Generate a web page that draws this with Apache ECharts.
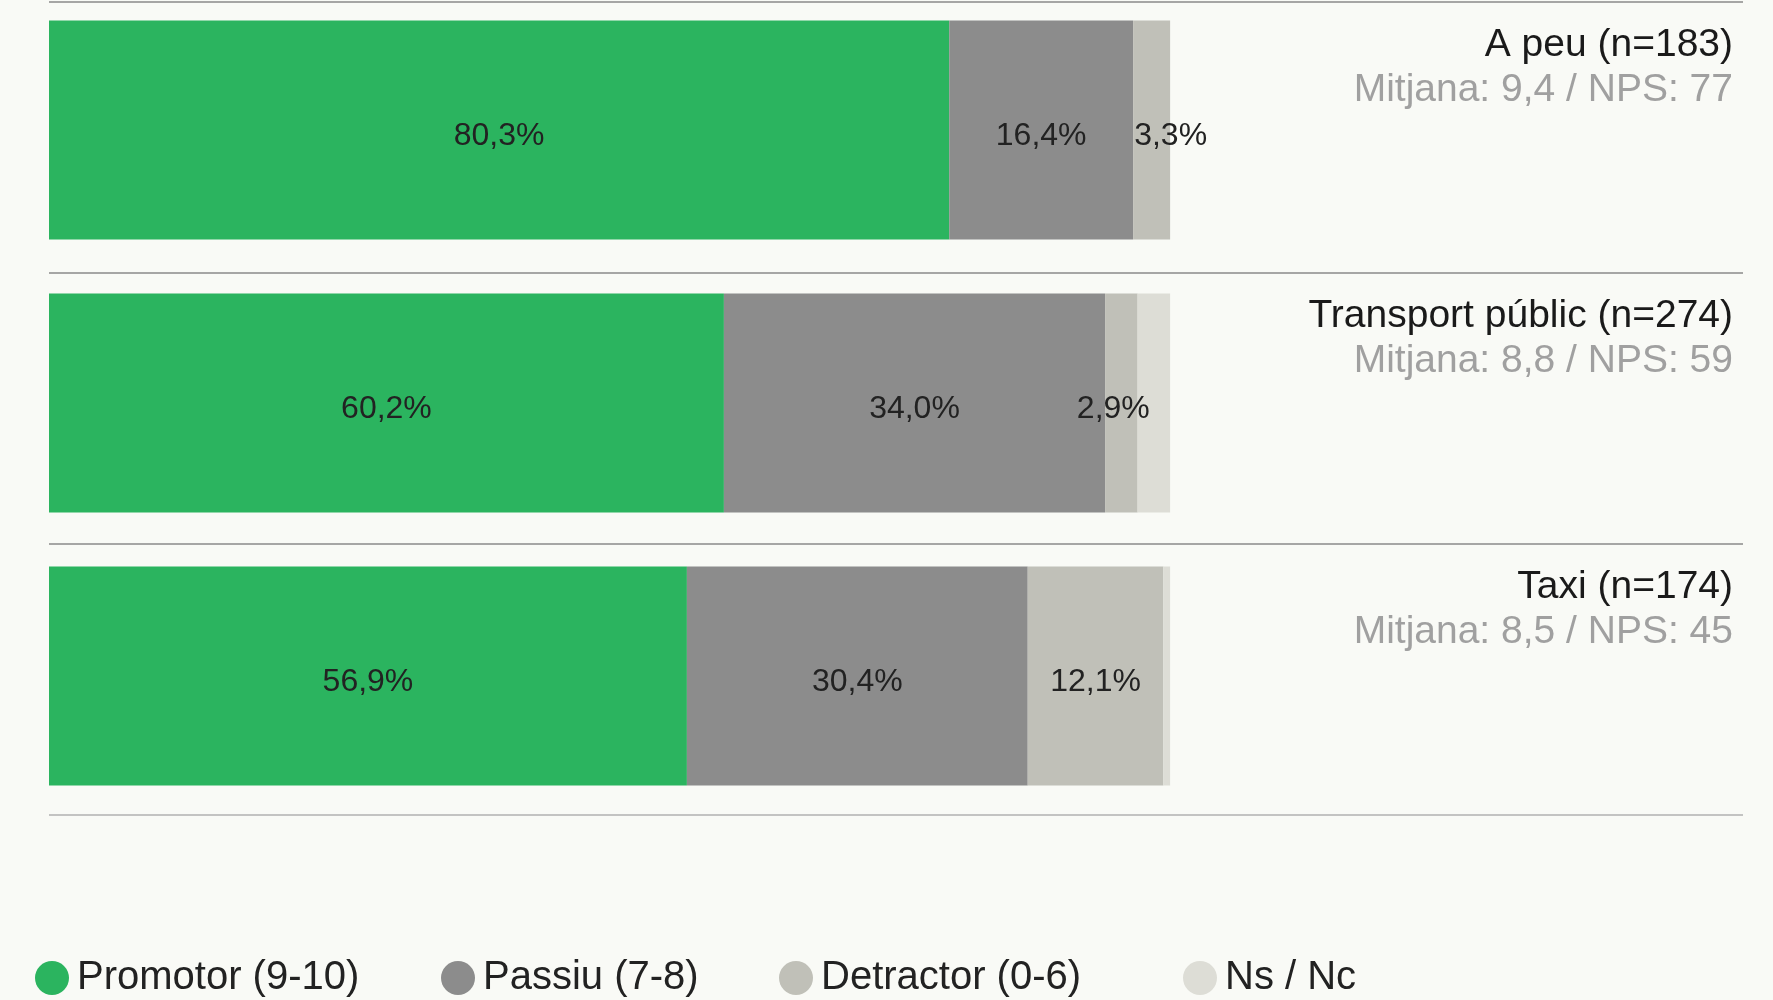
<!DOCTYPE html>
<html>
<head>
<meta charset="utf-8">
<script src="https://cdn.jsdelivr.net/npm/echarts@6/dist/echarts.min.js"></script>
<style>
  html, body { margin: 0; padding: 0; background: #f9faf6; }
  #chart { width: 1773px; height: 1000px; }
</style>
</head>
<body>
<div id="chart"></div>
<script>
// dades
const categories = ['A peu (n=183)', 'Transport públic (n=274)', 'Taxi (n=174)'];
const subtitles = ['Mitjana: 9,4 / NPS: 77', 'Mitjana: 8,8 / NPS: 59', 'Mitjana: 8,5 / NPS: 45'];
const seriesNames = ['Promotor (9-10)', 'Passiu (7-8)', 'Detractor (0-6)', 'Ns / Nc'];
const promotor = [80.3, 60.2, 56.9];
const passiu = [16.4, 34.0, 30.4];
const detractor = [3.3, 2.9, 12.1];
const nsnc = [0, 2.9, 0.6];

const colors = ['#2bb45f', '#8c8c8c', '#c0c0b8', '#ddddd6'];
// petit desplaçament de les etiquetes dels detractors, com a l'original
const detractorLabelDx = [19, -8, 0];

const fontFam = '"Liberation Sans", Arial, Helvetica, sans-serif';
const fmtPct = (v) => v.toFixed(1).replace('.', ',') + '%';

const chart = echarts.init(document.getElementById('chart'));

function barSeries(name, values, color, showLabel, dx) {
  return {
    name: name,
    type: 'bar',
    stack: 'total',
    xAxisIndex: 0,
    yAxisIndex: 0,
    barWidth: 219,
    itemStyle: { color: color },
    label: {
      show: showLabel,
      position: 'inside',
      offset: [0, 6],
      fontFamily: fontFam,
      fontSize: 32,
      color: '#222222',
      formatter: (p) => fmtPct(p.value)
    },
    emphasis: { disabled: true },
    data: dx ? values.map((v, i) => ({ value: v, label: { offset: [dx[i], 6] } })) : values
  };
}

// una llegenda per element, per situar-les com a l'original
const legendLefts = [30, 436, 774, 1178];
const legends = seriesNames.map((n, i) => ({
  data: [n],
  left: legendLefts[i],
  top: 953,
  icon: 'circle',
  itemWidth: 34,
  itemHeight: 34,
  selectedMode: false,
  textStyle: {
    fontFamily: fontFam,
    fontSize: 40,
    color: '#222222',
    lineHeight: 40,
    padding: [0, 0, 0, 3]
  }
}));

chart.setOption({
  backgroundColor: '#f9faf6',
  animation: false,
  legend: legends,
  grid: [
    { left: 49, right: 30, top: -6.5, bottom: 187.5, outerBoundsMode: 'none' },   // barres
    { left: 49, right: 30, top: 2, bottom: 185, outerBoundsMode: 'none' }         // línies separadores i títols
  ],
  xAxis: [
    { type: 'value', min: 0, max: 151.1, show: false, gridIndex: 0 },
    { type: 'value', min: 0, max: 100, show: false, gridIndex: 1 }
  ],
  yAxis: [
    {
      type: 'category',
      gridIndex: 0,
      data: categories,
      inverse: true,
      show: false
    },
    {
      type: 'category',
      gridIndex: 1,
      data: categories,
      inverse: true,
      position: 'right',
      axisLine: { show: false },
      axisTick: { show: false },
      splitLine: {
        show: true,
        lineStyle: { color: ['#8a8a8a', '#8a8a8a', '#8a8a8a', '#b0b0b0'], width: 1.5 }
      },
      axisLabel: {
        inside: true,
        margin: 10,
        align: 'right',
        padding: [0, 0, 140, 0],
        formatter: (val, idx) => '{t|' + val + '}\n{s|' + subtitles[idx] + '}',
        rich: {
          t: { fontFamily: fontFam, fontSize: 39, color: '#1a1a1a', lineHeight: 45, align: 'right' },
          s: { fontFamily: fontFam, fontSize: 39, color: '#a0a0a0', lineHeight: 45, align: 'right' }
        }
      }
    }
  ],
  series: [
    barSeries(seriesNames[0], promotor, colors[0], true),
    barSeries(seriesNames[1], passiu, colors[1], true),
    barSeries(seriesNames[2], detractor, colors[2], true, detractorLabelDx),
    barSeries(seriesNames[3], nsnc, colors[3], false)
  ]
});
</script>
</body>
</html>
